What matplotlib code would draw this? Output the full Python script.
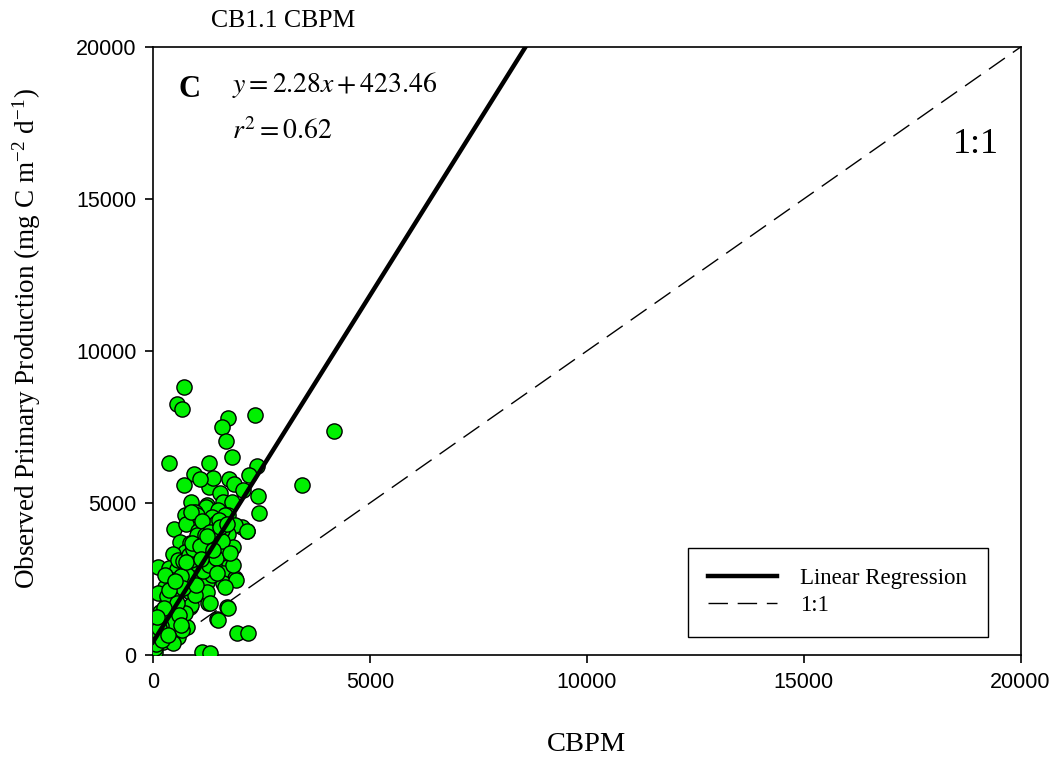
import numpy as np
import matplotlib
matplotlib.use("Agg")
import matplotlib.pyplot as plt

# values (CBPM vs observed PP, mg C m-2 d-1)
cbpm = [721, 560, 675, 1721, 1582, 1682, 2357, 1820, 376, 1290, 2389, 951,
        721, 1281, 1387, 1758, 1866, 2212, 2081, 2426, 1544, 887, 1237, 1620,
        4170, 3433, 2442, 2173, 2043, 1083, 1827, 1221, 1505, 737, 968, 1352,
        1735, 1006, 1659, 491, 753, 1045, 1444, 1889, 2159, 1735, 622, 852,
        1160, 1428, 1850, 737, 468, 1083, 1352, 1698, 108, 369, 545, 813,
        1045, 1428, 1620, 1889, 430, 661, 968, 1237, 1620, 277, 1923, 1712,
        1482, 1928, 2196, 1120, 1313, 852, 1275, 353, 545, 238, 468, 776,
        161, 392, 8, 1659, 1237, 852, 545, 315, 887, 1313, 1735, 737,
        353, 1490, 161, 85, 583, 238, 20, 46, 887, 1582, 1198, 887,
        1582, 583, 277, 776, 1352, 1850, 123, 430, 583, 968, 277, 392,
        8, 46, 468, 661,
        # densest part of the band
        300, 420, 520, 640, 700, 820, 930, 1010, 1130, 1200, 1320, 1400,
        1520, 1600, 200, 250, 330, 470, 560, 690, 760, 900, 1080, 1150,
        1290, 1450, 1550, 120, 180, 260, 380, 500, 600, 1000, 1100, 1240,
        1380, 1470, 1700, 1780, 60, 150, 90, 210, 340, 640]
observed = [8807, 8248, 8093, 7808, 7512, 7051, 7896, 6504, 6327, 6306, 6218, 5945,
            5593, 5537, 5814, 5781, 5616, 5922, 5429, 5231, 5319, 5042, 4935, 5042,
            7370, 5603, 4662, 4090, 4222, 5781, 5042, 4880, 4771, 4606, 4715, 4551,
            4606, 4606, 4606, 4135, 4310, 4090, 4353, 4277, 4090, 3981, 3728, 3674,
            3805, 3619, 3564, 3399, 3323, 3290, 3235, 3126, 2905, 2852, 2819, 2852,
            2928, 2852, 2688, 2523, 2468, 2468, 2523, 2413, 2380, 2248, 2468, 1569,
            1174, 734, 734, 110, 55, 1590, 1700, 1810, 1425, 1152, 932, 932,
            603, 494, 55, 2248, 2083, 2083, 2028, 1810, 1645, 1700, 1536, 1371,
            1097, 1152, 1425, 823, 603, 439, 274, 110, 4715, 4112, 3454, 3126,
            3345, 3126, 2632, 2632, 2632, 2961, 2028, 1590, 1261, 1974, 823, 932,
            494, 230, 384, 823,
            1400, 1700, 2300, 2600, 3100, 3300, 3500, 3950, 4400, 3950, 4050, 3850,
            4450, 3750, 1250, 700, 1950, 1050, 1700, 2200, 3050, 3700, 3600, 2750,
            2950, 3200, 4200, 650, 950, 1550, 2150, 2450, 1300, 2300, 3150, 3900,
            3450, 2700, 4300, 3350, 350, 900, 1250, 500, 650, 1000]

slope = 2.28
intercept = 423.46
axis_max = 20000

plt.rcParams['mathtext.fontset'] = 'stix'
serif = 'Liberation Serif'
sans = 'Liberation Sans'

fig = plt.figure(figsize=(10.62, 7.59), dpi=100)
ax = fig.add_axes([0.144, 0.137, 0.817, 0.801])

ax.scatter(cbpm, observed, s=120, c='#00f000', edgecolors='black',
           linewidths=1.0, zorder=3)

# regression line, clipped at the top of the axis
x_end = (axis_max - intercept) / slope
xr = np.array([0, x_end])
ax.plot(xr, slope * xr + intercept, color='black', lw=3.2, zorder=4,
        label='Linear Regression')
ax.plot([0, axis_max], [0, axis_max], color='black', lw=1.0,
        dashes=(14, 7), zorder=2, label='1:1')

ax.set_xlim(0, axis_max)
ax.set_ylim(0, axis_max)
ax.set_xticks([0, 5000, 10000, 15000, 20000])
ax.set_yticks([0, 5000, 10000, 15000, 20000])
ax.tick_params(direction='out', length=6, width=1.2, labelsize=15.5, pad=6,
               top=False, right=False)
for lab in ax.get_xticklabels() + ax.get_yticklabels():
    lab.set_fontfamily(sans)
for sp in ax.spines.values():
    sp.set_linewidth(1.2)

ax.set_xlabel('CBPM', fontsize=20.5, family=serif, labelpad=28)
ax.set_ylabel(r'Observed Primary Production (mg C m$^{\mathregular{-2}}$ d$^{\mathregular{-1}}$)',
              fontsize=19.5, family=serif)
ax.yaxis.set_label_coords(-0.127, 0.52)

fig.text(0.199, 0.972, 'CB1.1 CBPM', fontsize=18.5, family=serif,
         ha='left', va='center')

ax.text(0.03, 0.93, 'C', transform=ax.transAxes, fontsize=22,
        fontweight='bold', family=serif, va='center')
ax.text(0.091, 0.937, r'$y = 2.28x + 423.46$', transform=ax.transAxes,
        fontsize=20, va='center')
ax.text(0.091, 0.862, r'$r^2 = 0.62$', transform=ax.transAxes,
        fontsize=20, va='center')
ax.text(0.975, 0.84, '1:1', transform=ax.transAxes, fontsize=26,
        family=serif, ha='right', va='center')

leg = ax.legend(loc='lower right', bbox_to_anchor=(0.962, 0.03),
                borderaxespad=0, fancybox=False, framealpha=1,
                edgecolor='black', prop={'family': serif, 'size': 16.5},
                handlelength=3.0, handletextpad=1.0, borderpad=0.9,
                labelspacing=0.25)
leg.get_frame().set_linewidth(1.0)

fig.savefig('out.png', dpi=100)
